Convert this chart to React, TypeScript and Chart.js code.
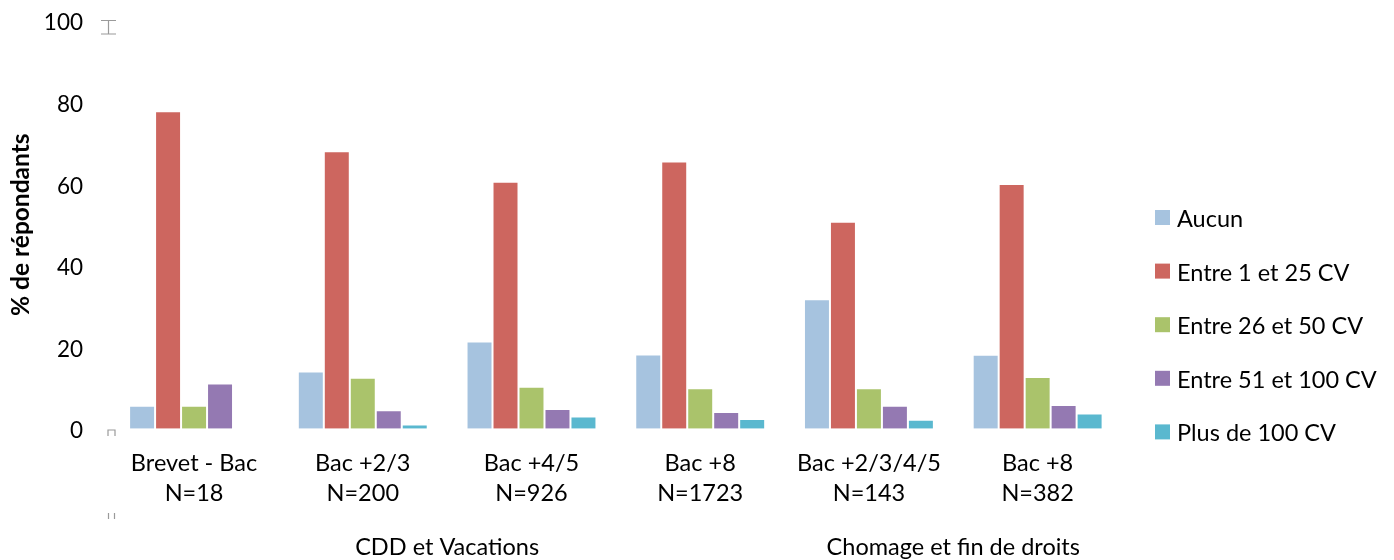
import React, { useEffect, useRef } from "react";
import { Chart, registerables } from "chart.js";

Chart.register(...registerables);

// Categories: education level + sample size (two lines each)
const categories: string[][] = [
  ["Brevet - Bac", "N=18"],
  ["Bac +2/3", "N=200"],
  ["Bac +4/5", "N=926"],
  ["Bac +8", "N=1723"],
  ["Bac +2/3/4/5", "N=143"],
  ["Bac +8", "N=382"],
];

// Contract-status groups spanning the categories
const groupNames = ["CDD et Vacations", "Chomage et fin de droits"];
const groupSpans = [
  [0, 3],
  [4, 5],
];

const seriesNames = [
  "Aucun",
  "Entre 1 et 25 CV",
  "Entre 26 et 50 CV",
  "Entre 51 et 100 CV",
  "Plus de 100 CV",
];

// % of respondents per category
const aucun = [5.6, 14.0, 21.4, 18.2, 31.7, 18.1];
const entre1et25 = [77.8, 68.0, 60.5, 65.5, 50.7, 60.0];
const entre26et50 = [5.6, 12.5, 10.3, 9.9, 9.9, 12.7];
const entre51et100 = [11.1, 4.5, 4.8, 4.1, 5.6, 5.8];
const plusDe100 = [0, 1.0, 3.0, 2.4, 2.2, 3.7];

const yTicks = [0, 20, 40, 60, 80, 100];

const colors = ["#A6C3DF", "#CD665F", "#AAC36B", "#9479B2", "#5AB8CF"];

const FONT = "Lato, 'Open Sans', sans-serif";
const TEXT_SIZE = 23.5;

export default function App() {
  const ref = useRef<HTMLCanvasElement | null>(null);

  useEffect(() => {
    if (!ref.current) return;
    const values = [aucun, entre1et25, entre26et50, entre51et100, plusDe100];

    const extras = {
      id: "extras",
      afterDraw(chart: any) {
        const ctx = chart.ctx as CanvasRenderingContext2D;
        const x = chart.scales.x;
        ctx.save();

        // group labels under the category labels
        ctx.fillStyle = "#000";
        ctx.font = `${TEXT_SIZE}px ${FONT}`;
        ctx.textAlign = "center";
        ctx.textBaseline = "alphabetic";
        const half = (x.getPixelForValue(1) - x.getPixelForValue(0)) / 2;
        groupNames.forEach((name, i) => {
          const [a, b] = groupSpans[i];
          const l = x.getPixelForValue(a) - half;
          const r = x.getPixelForValue(b) + half;
          ctx.fillText(name, (l + r) / 2, 555);
        });

        // legend on the right
        ctx.textAlign = "left";
        seriesNames.forEach((name, i) => {
          const cy = 217.5 + i * 53.6;
          ctx.fillStyle = colors[i];
          ctx.fillRect(1155, cy - 7.5, 15, 15);
          ctx.fillStyle = "#000";
          ctx.fillText(name, 1177, cy + 9.5);
        });

        // small axis marks
        ctx.strokeStyle = "#9a9a9a";
        ctx.lineWidth = 1.2;
        ctx.beginPath();
        ctx.moveTo(101, 20.5);
        ctx.lineTo(116, 20.5);
        ctx.moveTo(108.5, 20.5);
        ctx.lineTo(108.5, 34);
        ctx.moveTo(101, 34);
        ctx.lineTo(116, 34);
        ctx.moveTo(108, 436);
        ctx.lineTo(108, 430);
        ctx.lineTo(115, 430);
        ctx.lineTo(115, 436);
        ctx.moveTo(108.5, 513);
        ctx.lineTo(108.5, 519);
        ctx.moveTo(114.5, 513);
        ctx.lineTo(114.5, 519);
        ctx.stroke();
        ctx.restore();
      },
    };

    const chart = new Chart(ref.current, {
      type: "bar",
      data: {
        labels: categories,
        datasets: seriesNames.map((name, i) => ({
          label: name,
          data: values[i],
          backgroundColor: colors[i],
          borderColor: "rgba(255,255,255,0.35)",
          borderWidth: 1,
          categoryPercentage: 0.77,
          barPercentage: 1,
        })),
      },
      options: {
        animation: false,
        responsive: false,
        maintainAspectRatio: false,
        layout: { padding: { top: 20.7, right: 272, left: 0, bottom: 0 } },
        plugins: {
          legend: { display: false },
          tooltip: { enabled: false },
        },
        scales: {
          x: {
            grid: { display: false, drawTicks: false },
            border: { display: false },
            ticks: {
              color: "#000",
              font: { family: FONT, size: TEXT_SIZE, lineHeight: 1.277 },
              padding: 20,
              maxRotation: 0,
              autoSkip: false,
            },
            afterFit: (s: any) => {
              s.height = 131.3;
            },
          },
          y: {
            min: 0,
            max: 100,
            afterBuildTicks: (s: any) => {
              s.ticks = yTicks.map((v) => ({ value: v }));
            },
            grid: { display: false, drawTicks: false },
            border: { display: false },
            ticks: {
              color: "#000",
              font: { family: FONT, size: 22.5 },
              padding: 26.7,
              labelOffset: 2.5,
            },
            title: {
              display: true,
              text: "% de répondants",
              color: "#000",
              font: { family: FONT, size: 24.5, weight: "bold" },
              padding: { top: 6, bottom: 0 },
            },
            afterFit: (s: any) => {
              s.width = 109.7;
              s.paddingTop = 0;
              s.paddingBottom = 0;
            },
          },
        },
      },
      plugins: [extras],
    });
    return () => chart.destroy();
  }, []);

  return (
    <div style={{ position: "fixed", left: 0, top: 0, width: 1394, height: 560, background: "#fff" }}>
      <canvas ref={ref} width={1394} height={560} style={{ width: 1394, height: 560 }} />
    </div>
  );
}
